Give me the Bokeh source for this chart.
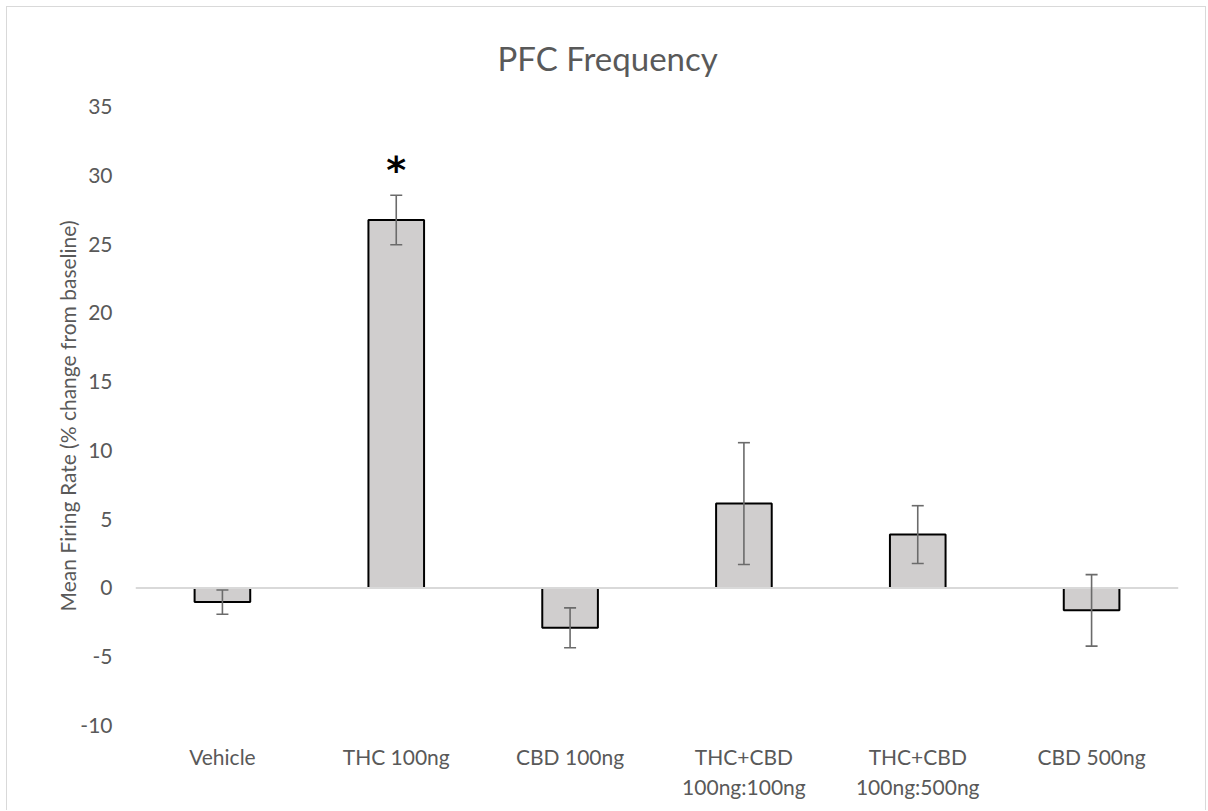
from bokeh.core.properties import value
from bokeh.embed import file_html
from bokeh.models import (ColumnDataSource, FactorRange, Range1d, Span,
                          TeeHead, Whisker)
from bokeh.plotting import figure
from bokeh.resources import INLINE

# Mean firing rate in PFC, % change from baseline, with SEM
groups = ["Vehicle", "THC 100ng", "CBD 100ng",
          "THC+CBD\n100ng:100ng", "THC+CBD\n100ng:500ng", "CBD 500ng"]
mean_change = [-1.03, 26.75, -2.9, 6.13, 3.88, -1.63]
sem = [0.88, 1.8, 1.45, 4.43, 2.1, 2.6]
significant = [False, True, False, False, False, False]

y_ticks = [-10, -5, 0, 5, 10, 15, 20, 25, 30, 35]

FONT = "Lato"
TEXT_GREY = "#595959"
BORDER = "#d9d9d9"

source = ColumnDataSource(dict(
    group=groups,
    value=mean_change,
    upper=[m + s for m, s in zip(mean_change, sem)],
    lower=[m - s for m, s in zip(mean_change, sem)],
))

p = figure(
    title="PFC Frequency",
    x_range=FactorRange(*groups),
    y_range=Range1d(-10, 35),
    frame_width=1043, frame_height=619,
    min_border_left=128, min_border_right=27,
    min_border_top=99, min_border_bottom=85,
    output_backend="svg", toolbar_location=None,
)
p.styles = {
    "margin-left": "6px",
    "margin-top": "6px",
    "border-left": f"1.5px solid {BORDER}",
    "border-top": f"1.5px solid {BORDER}",
    "border-right": f"1.5px solid {BORDER}",
}
p.background_fill_color = "white"
p.border_fill_color = "white"
p.outline_line_color = None
p.xgrid.grid_line_color = None
p.ygrid.grid_line_color = None

p.title.align = "left"
p.title.offset = 362
p.title.standoff = 57
p.title.text_font = FONT
p.title.text_font_size = "33px"
p.title.text_font_style = "normal"
p.title.text_color = TEXT_GREY

# bars
p.vbar(x="group", top="value", bottom=0, width=0.32, source=source,
       fill_color="#d0cece", line_color="black", line_width=2)

# zero line
p.add_layout(Span(location=0, dimension="width",
                  line_color=BORDER, line_width=2))

# error bars, drawn over the bars
head_style = dict(size=12, line_color="#6b6b6b", line_width=1.6)
whisker = Whisker(base="group", upper="upper", lower="lower", source=source,
                  line_color="#6b6b6b", line_width=1.6, level="overlay",
                  upper_head=TeeHead(**head_style),
                  lower_head=TeeHead(**head_style))
p.add_layout(whisker)

# significance marker above the error bar
star_src = ColumnDataSource(dict(
    group=[g for g, s in zip(groups, significant) if s],
    top=[m + e for m, e, s in zip(mean_change, sem, significant) if s],
    mark=["*" for s in significant if s],
))
p.text(x="group", y="top", text="mark",
       source=star_src, text_align="center", text_baseline="middle",
       y_offset=-25, text_font_size="38px", text_color="black",
       text_font=value("DejaVu Sans"), text_font_style="bold")

# axes
p.yaxis.ticker = y_ticks
p.yaxis.major_label_overrides = {t: str(t) for t in y_ticks}
p.yaxis.axis_line_color = None
p.yaxis.major_tick_line_color = None
p.yaxis.minor_tick_line_color = None
p.yaxis.major_label_text_font = FONT
p.yaxis.major_label_text_font_size = "21px"
p.yaxis.major_label_text_color = TEXT_GREY
p.yaxis.major_label_standoff = 17
p.yaxis.axis_label = "Mean Firing Rate (% change from baseline)"
p.yaxis.axis_label_text_font = FONT
p.yaxis.axis_label_text_font_size = "21px"
p.yaxis.axis_label_text_font_style = "normal"
p.yaxis.axis_label_text_color = TEXT_GREY
p.yaxis.axis_label_standoff = -3

p.xaxis.axis_line_color = None
p.xaxis.major_tick_line_color = None
p.xaxis.minor_tick_line_color = None
p.xaxis.major_label_text_font = FONT
p.xaxis.major_label_text_font_size = "21px"
p.xaxis.major_label_text_color = TEXT_GREY
p.xaxis.major_label_standoff = 12

open("out.html", "w").write(file_html(p, INLINE))
